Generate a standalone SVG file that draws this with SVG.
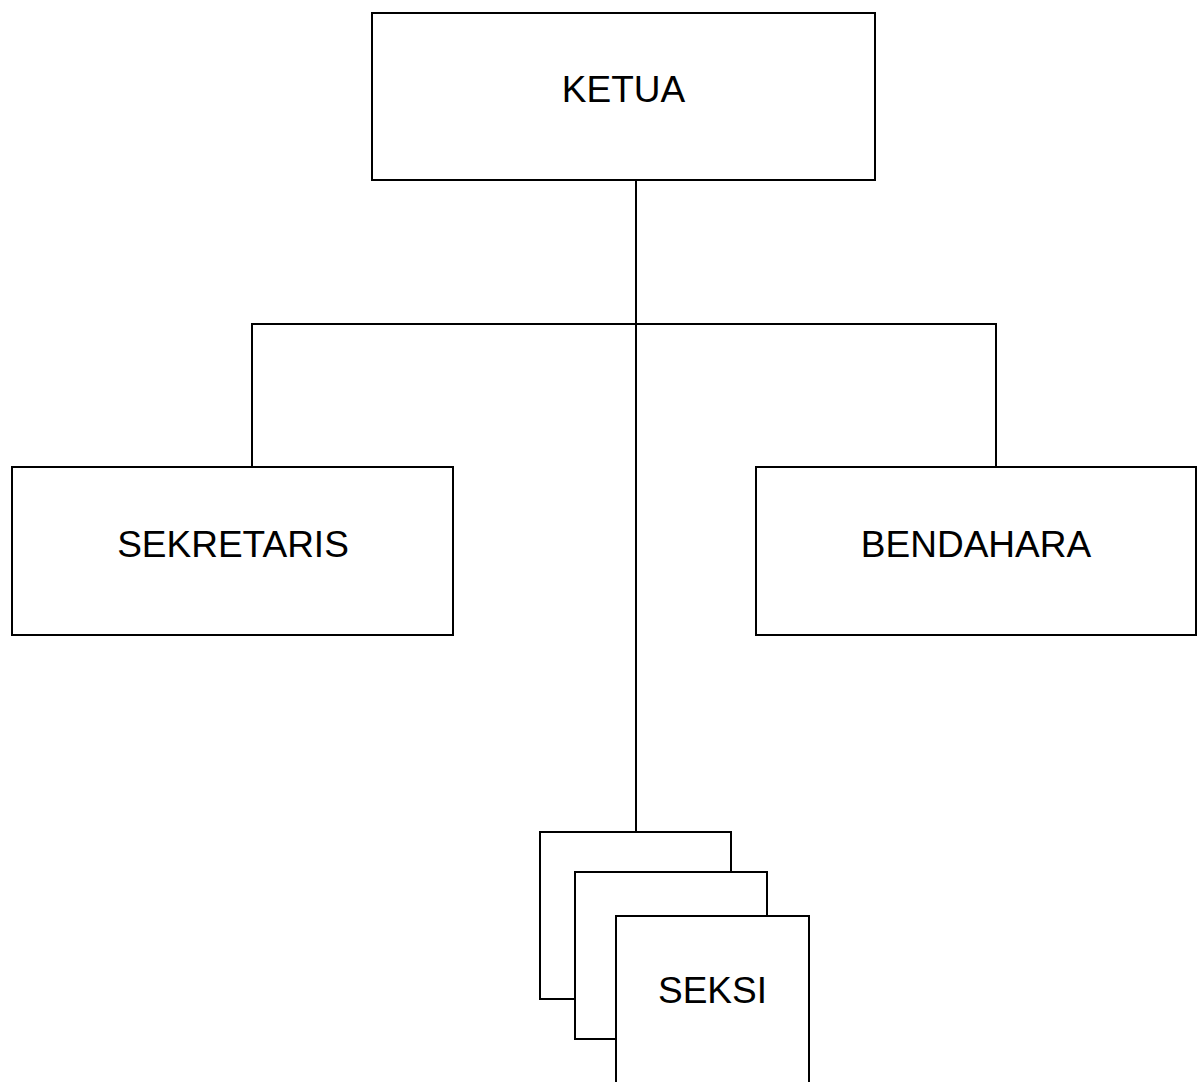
<svg xmlns="http://www.w3.org/2000/svg" width="1197" height="1082" viewBox="0 0 1197 1082">
<style>
.box{fill:#fff;stroke:#000;stroke-width:2}
.lbl{font-family:"Liberation Sans",Arial,sans-serif;font-size:37px;fill:#000;text-anchor:middle}
.conn{stroke:#000;stroke-width:2;fill:none}
</style>
<rect width="1197" height="1082" fill="#fff"/>
<g id="connectors">
<line class="conn" x1="636" y1="180" x2="636" y2="832"/>
<line class="conn" x1="251" y1="324" x2="997" y2="324"/>
<line class="conn" x1="252" y1="324" x2="252" y2="467"/>
<line class="conn" x1="996" y1="324" x2="996" y2="467"/>
</g>
<g id="ketua">
<rect class="box" x="372" y="13" width="503" height="167"/>
<text class="lbl" x="623.5" y="102">KETUA</text>
</g>
<g id="sekretaris">
<rect class="box" x="12" y="467" width="441" height="168"/>
<text class="lbl" x="233" y="557">SEKRETARIS</text>
</g>
<g id="bendahara">
<rect class="box" x="756" y="467" width="440" height="168"/>
<text class="lbl" x="976" y="557">BENDAHARA</text>
</g>
<g id="seksi">
<rect class="box" x="540" y="832" width="191" height="167"/>
<rect class="box" x="575" y="872" width="192" height="167"/>
<rect class="box" x="616" y="916" width="193" height="168"/>
<text class="lbl" x="712.5" y="1003">SEKSI</text>
</g>
</svg>
